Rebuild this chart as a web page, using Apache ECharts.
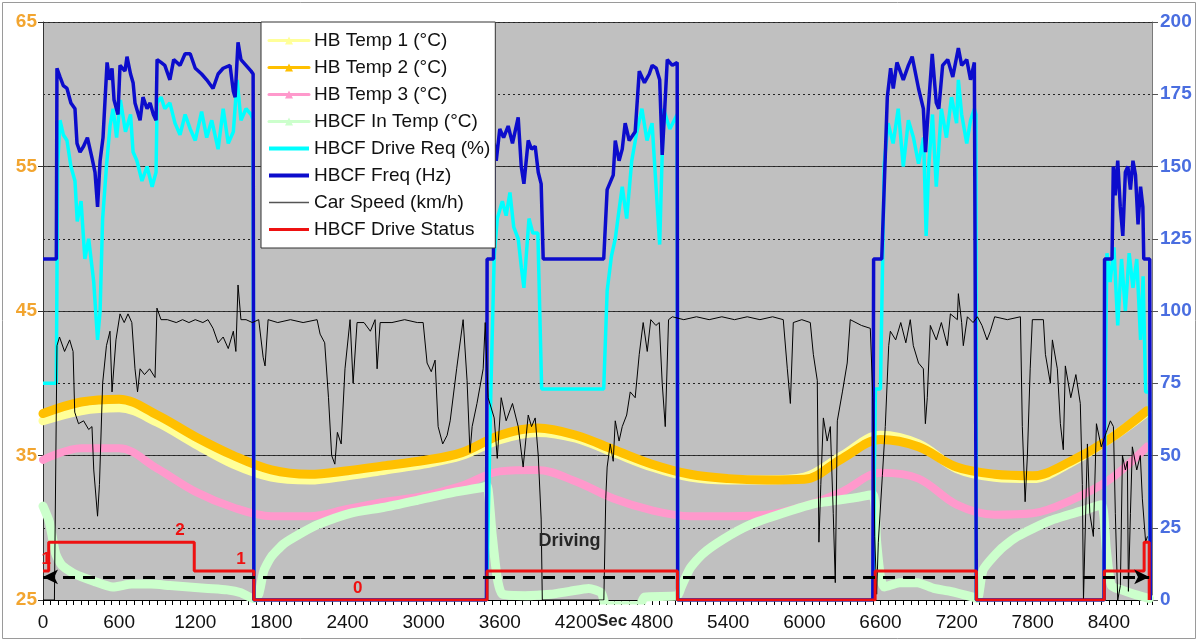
<!DOCTYPE html>
<html>
<head>
<meta charset="utf-8">
<script src="https://cdn.jsdelivr.net/npm/echarts@6/dist/echarts.min.js"></script>
<style>
  html, body { margin: 0; padding: 0; background: #fff; }
  #chart { width: 1199px; height: 642px; }
</style>
</head>
<body>
<div id="chart"></div>
<script>
// ---- Heat-battery temperatures (left axis, °C), sampled every 300 s ----
const tempTime = [0,300,600,900,1200,1500,1800,2100,2400,2700,3000,3300,3600,3900,4200,4500,4800,5100,5400,5700,6000,6300,6600,6900,7200,7500,7800,8100,8400,8700];
const hbTemp1 = [37.4,38.1,38.3,37.3,35.8,34.4,33.5,33.3,33.6,34.0,34.4,35.0,36.1,36.6,36.2,35.2,34.2,33.5,33.3,33.3,33.5,35.0,36.4,35.8,34.1,33.5,33.4,34.5,36.1,38.0];
const hbTemp2 = [37.9,38.7,38.9,37.8,36.3,35.0,34.0,33.7,33.95,34.3,34.65,35.2,36.4,36.9,36.4,35.4,34.4,33.7,33.4,33.3,33.35,34.8,36.1,35.6,34.2,33.7,33.6,34.6,36.1,38.1];
const hbTemp3 = [34.7,35.5,35.5,34.1,32.5,31.4,30.8,30.8,31.3,31.8,32.2,32.9,33.9,34.0,33.2,32.0,31.2,30.8,30.8,30.9,31.5,32.5,33.8,33.4,31.6,30.9,31.0,31.9,33.3,35.6];

// ---- Heat-battery coolant-flow inlet temperature (left axis, °C) ----
const inTempTime = [0,50,100,150,250,400,550,700,850,1000,1150,1300,1450,1560,1660,1700,1740,1800,1900,2030,2160,2420,2680,2950,3210,3470,3500,3540,3580,3620,3800,4000,4150,4300,4400,4440,4700,4740,5000,5030,5100,5200,5360,5570,5830,6100,6420,6540,6570,6600,6630,6750,6890,7020,7150,7330,7365,7410,7545,7680,7940,8200,8340,8380,8420,8500,8600,8720];
const inTemp = [31.5,30.4,28.2,27.4,26.8,26.3,25.9,26.1,26.1,26.0,25.9,25.8,25.7,25.5,25.1,25.4,27.0,28.0,28.9,29.6,30.2,31.0,31.4,31.9,32.4,32.8,32.9,29.5,26.5,25.4,25.3,25.4,25.6,25.8,25.5,24.6,24.6,25.2,25.3,25.9,27.2,28.2,29.2,30.2,31.0,31.7,32.1,32.3,29.0,26.6,25.9,26.2,26.2,25.8,25.6,25.2,25.1,27.1,28.5,29.4,30.5,31.2,31.6,28.5,26.0,25.7,25.4,25.1];

// ---- Coolant-flow pump drive request (right axis, %) ----
const driveReqTime = [0,105,115,134,160,189,220,252,270,300,330,360,400,430,450,470,500,528,552,580,610,650,690,710,740,780,820,860,891,899,930,960,1000,1040,1080,1120,1160,1200,1250,1290,1330,1380,1420,1460,1500,1530,1560,1600,1640,1656,1662,
  3495,3530,3556,3580,3620,3650,3680,3710,3745,3770,3790,3830,3860,3900,3930,4419,4446,4480,4510,4540,4565,4600,4640,4680,4720,4760,4800,4860,4890,4940,4998,5002,
  6540,6560,6600,6630,6660,6700,6740,6780,6820,6860,6900,6940,6960,6980,7010,7040,7080,7120,7160,7200,7214,7240,7280,7310,7340,7352,7356,
  8362,8370,8385,8410,8440,8470,8500,8530,8560,8590,8620,8650,8670,8690,8720,8726];
const driveReq = [75,75,150,166,161,159,150,145,131,138,118,125,110,90,100,132,150,164,170,160,173,162,168,155,152,145,150,143,148,172,174,170,172,165,161,168,163,159,169,160,166,156,170,158,162,180,166,170,168,166,0,
  0,73,119,132,138,133,141,129,125,115,108,132,127,127,73,73,107,119,125,135,143,132,152,162,170,159,165,123,170,163,168,0,
  0,73,73,151,165,158,170,150,166,160,151,160,126,150,168,143,170,160,174,165,180,168,158,166,170,168,0,
  0,72,120,110,122,95,118,100,120,108,118,90,112,72,72,0];

// ---- Coolant-flow pump frequency (right axis, Hz) ----
const freqTime = [0,105,110,134,160,189,220,252,268,292,320,350,386,410,430,450,473,505,525,544,560,591,607,646,662,690,710,725,765,788,820,844,870,891,899,930,960,1000,1030,1080,1120,1160,1200,1250,1290,1340,1380,1420,1474,1500,1514,1537,1560,1600,1640,1656,1662,
  3495,3500,3550,3556,3572,3600,3630,3666,3700,3745,3769,3790,3824,3850,3879,3903,3926,3942,4419,4446,4494,4510,4540,4565,4588,4620,4667,4699,4740,4778,4801,4833,4860,4880,4900,4920,4960,4998,5002,
  6540,6546,6610,6654,6680,6701,6730,6780,6820,6850,6900,6938,6955,6977,7008,7040,7060,7090,7130,7170,7214,7240,7280,7310,7340,7352,7356,
  8362,8366,8425,8435,8450,8470,8490,8510,8530,8550,8570,8590,8610,8630,8650,8668,8675,8722,8726];
const freq = [118,118,184,181,178,177,172,170,158,155,157,160,153,148,136,152,160,186,180,184,173,168,185,183,188,182,179,172,166,174,170,172,168,166,187,186,185,180,187,185,189,189,184,182,180,177,182,184,185,176,174,193,187,185,183,182,0,
  0,118,118,158,152,163,160,164,158,167,150,144,159,156,157,148,144,118,118,142,147,159,152,156,165,159,162,183,179,182,185,184,180,154,170,187,185,186,0,
  0,118,118,174,184,177,186,180,185,188,177,170,155,170,189,172,170,185,187,181,191,185,187,180,186,186,0,
  0,118,118,150,140,152,136,126,148,150,142,152,147,130,143,136,118,118,0];

// ---- Vehicle speed (right axis, km/h) ----
const speedTime = [0,90,110,130,170,210,237,250,280,320,360,386,400,430,445,470,500,528,544,575,607,640,670,700,725,745,765,800,840,883,898,930,980,1050,1100,1150,1200,1260,1300,1340,1380,1420,1460,1500,1520,1537,1560,1600,1650,1700,1735,1750,1774,1850,1950,2050,2160,2184,2220,2250,2275,2300,2320,2350,2380,2420,2444,2475,2530,2580,2617,2633,2657,2750,2850,2950,2996,3027,3060,3090,3114,3150,3185,3209,3260,3311,3342,3365,3382,3420,3469,3485,3508,3556,3580,3611,3650,3700,3745,3784,3824,3850,3879,3903,3926,3935,4420,4435,4446,4470,4494,4510,4540,4565,4600,4628,4667,4699,4730,4762,4790,4830,4857,4880,4904,4930,4960,5050,5150,5250,5350,5450,5550,5650,5750,5834,5866,5890,5913,5980,6047,6071,6102,6115,6130,6150,6180,6205,6228,6244,6260,6300,6338,6362,6450,6520,6540,6555,6570,6583,6615,6638,6665,6678,6720,6760,6800,6835,6859,6900,6938,6954,6969,6993,7040,7080,7127,7151,7206,7214,7240,7253,7285,7330,7364,7400,7440,7466,7500,7600,7703,7718,7740,7758,7780,7797,7884,7900,7939,7955,7994,8018,8041,8057,8100,8140,8175,8191,8200,8215,8231,8250,8278,8302,8340,8380,8412,8436,8451,8470,8491,8507,8530,8546,8554,8570,8585,8620,8648,8664,8690,8704];
const speed = [0,0,88,91,86,90,86,65,61,62,59,60,45,29,40,75,88,93,72,90,99,96,99,96,80,72,80,78,80,77,101,97,97,96,97,96,97,96,97,94,89,91,87,93,86,109,97,97,96,97,84,81,97,96,97,96,97,92,89,70,50,47,58,54,80,97,75,96,96,93,97,80,96,96,97,96,96,82,79,83,60,54,57,62,80,97,76,51,60,68,80,96,70,63,49,70,62,68,60,46,64,60,63,50,28,0,0,35,46,54,48,62,55,60,64,72,70,85,96,86,97,95,96,75,60,97,98,97,98,97,98,97,98,97,98,97,80,68,96,97,96,85,76,20,40,63,55,60,30,6,62,72,82,97,95,94,70,22,2,20,43,60,88,93,90,96,89,97,88,82,80,61,70,95,90,96,88,99,97,106,96,88,98,96,98,95,90,93,98,97,98,60,34,50,80,97,97,85,75,90,80,61,52,81,70,78,68,40,0,0,54,30,22,61,53,58,62,60,30,0,5,50,45,48,3,30,53,45,50,35,20,22];

// ---- Drive status (0 = off, 1, 2), changes of state ----
const statusTime = [0,45,1192,1662,3500,5000,6558,7356,8364,8678,8718];
const status = [1,2,1,0,1,0,1,0,1,2,0];
// times at which the state number is written above the trace
const statusLabelTime = [25,1080,1560,2480];

// x-axis tick spacing (s) and range
const xTickStep = 600;
const xMax = 8740;

const zip = (xs, ys) => xs.map((x, i) => [x, ys[i]]);
const statusAt = t => { let v = status[0]; for (let i = 0; i < statusTime.length; i++) if (statusTime[i] <= t) v = status[i]; return v; };

const FONT = '"Liberation Sans", Arial, sans-serif';

const tempSeries = (name, xs, ys, color, width, smooth) => ({
  name, type: 'line', yAxisIndex: 0, data: zip(xs, ys),
  smooth: smooth, symbol: 'triangle', symbolSize: 8, showSymbol: false,
  lineStyle: { color, width, cap: 'round', join: 'round' }, itemStyle: { color },
  emphasis: { disabled: true }
});

const chart = echarts.init(document.getElementById('chart'), null, { renderer: 'canvas' });

chart.setOption({
  animation: false,
  backgroundColor: '#fff',
  textStyle: { fontFamily: FONT },
  grid: { left: 43, right: 47, top: 22, bottom: 42, show: true, backgroundColor: '#c0c0c0', borderWidth: 0 },
  legend: {
    orient: 'vertical', left: 261, top: 22,
    padding: [9, 5, 9, 6], itemGap: 8, itemWidth: 40, itemHeight: 10,
    backgroundColor: '#fff', borderColor: '#333', borderWidth: 1, borderRadius: 0,
    textStyle: { fontSize: 19, color: '#111', fontFamily: FONT },
    selectedMode: false,
    data: [
      { name: 'HB Temp 1 (°C)', lineStyle: { width: 3 } },
      { name: 'HB Temp 2 (°C)', lineStyle: { width: 3 } },
      { name: 'HB Temp 3 (°C)', lineStyle: { width: 3 } },
      { name: 'HBCF In Temp (°C)', lineStyle: { width: 3 } },
      { name: 'HBCF Drive Req (%)', lineStyle: { width: 4 }, itemStyle: { opacity: 0 } },
      { name: 'HBCF Freq (Hz)', lineStyle: { width: 4 }, itemStyle: { opacity: 0 } },
      { name: 'Car Speed (km/h)', lineStyle: { width: 1.5, color: '#555' }, itemStyle: { opacity: 0 } },
      { name: 'HBCF Drive Status', lineStyle: { width: 3 }, itemStyle: { opacity: 0 } }
    ]
  },
  xAxis: {
    type: 'value', min: 0, max: xMax, interval: xTickStep,
    axisLine: { show: true, lineStyle: { color: '#000', width: 1 } },
    axisTick: { show: true, length: 5, lineStyle: { color: '#000' } },
    minorTick: { show: true, splitNumber: 10, length: 5, lineStyle: { color: '#000' } },
    axisLabel: { fontSize: 19, color: '#111', margin: 13, showMaxLabel: false, fontFamily: FONT, formatter: v => String(v) },
    splitLine: { show: false }
  },
  yAxis: [
    {
      type: 'value', position: 'left', min: 25, max: 65, interval: 10,
      axisLine: { show: true, lineStyle: { color: '#333' } },
      axisTick: { show: true, length: 5, lineStyle: { color: '#333' } },
      axisLabel: { color: '#f2a530', fontWeight: 'bold', fontSize: 19, margin: 6, fontFamily: FONT },
      splitLine: { show: true, lineStyle: { color: '#383838', width: 1 } }
    },
    {
      type: 'value', position: 'right', min: 0, max: 200, interval: 25,
      axisLine: { show: true, lineStyle: { color: '#7a7a7a' } },
      axisTick: { show: true, length: 6, lineStyle: { color: '#555' } },
      axisLabel: { color: '#4a6ee0', fontWeight: 'bold', fontSize: 19, margin: 8, fontFamily: FONT },
      splitLine: { show: true, lineStyle: { color: '#222', width: 1, type: [2, 3] } }
    },
    { type: 'value', min: 0, max: 20, show: false, splitLine: { show: false } }
  ],
  series: [
    tempSeries('HB Temp 1 (°C)', tempTime, hbTemp1, '#ffff99', 9, 0.35),
    tempSeries('HB Temp 2 (°C)', tempTime, hbTemp2, '#ffc000', 9, 0.35),
    tempSeries('HB Temp 3 (°C)', tempTime, hbTemp3, '#ff99cc', 8, 0.35),
    tempSeries('HBCF In Temp (°C)', inTempTime, inTemp, '#ccffcc', 9, 0.2),
    {
      name: 'HBCF Drive Req (%)', type: 'line', yAxisIndex: 1, data: zip(driveReqTime, driveReq),
      symbol: 'none', lineStyle: { color: '#00ffff', width: 3.5 }, itemStyle: { color: '#00ffff' }
    },
    {
      name: 'HBCF Freq (Hz)', type: 'line', yAxisIndex: 1, data: zip(freqTime, freq),
      symbol: 'none', lineStyle: { color: '#0c0ccc', width: 3.5 }, itemStyle: { color: '#0c0ccc' }
    },
    {
      name: 'Car Speed (km/h)', type: 'line', yAxisIndex: 1, data: zip(speedTime, speed),
      symbol: 'none', lineStyle: { color: '#000', width: 1 }, itemStyle: { color: '#000' },
      markLine: {
        silent: true, symbol: ['arrow', 'arrow'], symbolSize: [11, 15],
        label: { show: false },
        lineStyle: { color: '#000', width: 3, type: [12, 8] },
        data: [[{ coord: [0, 8] }, { coord: [8718, 8] }]]
      },
      markPoint: {
        silent: true, symbolSize: 0,
        label: { show: true, position: 'inside', fontSize: 18, fontWeight: 'bold', color: '#262626', fontFamily: FONT, formatter: p => p.name },
        data: [{ name: 'Driving', coord: [4150, 20.5] }]
      }
    },
    {
      name: 'HBCF Drive Status', type: 'line', yAxisIndex: 2, step: 'end', data: zip(statusTime, status),
      symbol: 'none', lineStyle: { color: '#ee1111', width: 3 }, itemStyle: { color: '#ee1111' },
      markPoint: {
        silent: true, symbolSize: 0,
        label: { show: true, position: 'inside', offset: [0, -12], fontSize: 17, fontWeight: 'bold', color: '#ee1111', fontFamily: FONT, formatter: p => String(p.value) },
        data: statusLabelTime.map(t => ({ coord: [t, statusAt(t)], value: statusAt(t) }))
      }
    }
  ],
  graphic: [
    { type: 'rect', silent: true, z: -10, shape: { x: 2.5, y: 2.5, width: 1193, height: 636 }, style: { fill: 'none', stroke: '#9a9a9a', lineWidth: 1 } },
    { type: 'text', silent: true, left: 597, top: 613, style: { text: 'Sec', font: 'bold 17px ' + FONT, fill: '#222' } }
  ]
});
</script>
</body>
</html>
